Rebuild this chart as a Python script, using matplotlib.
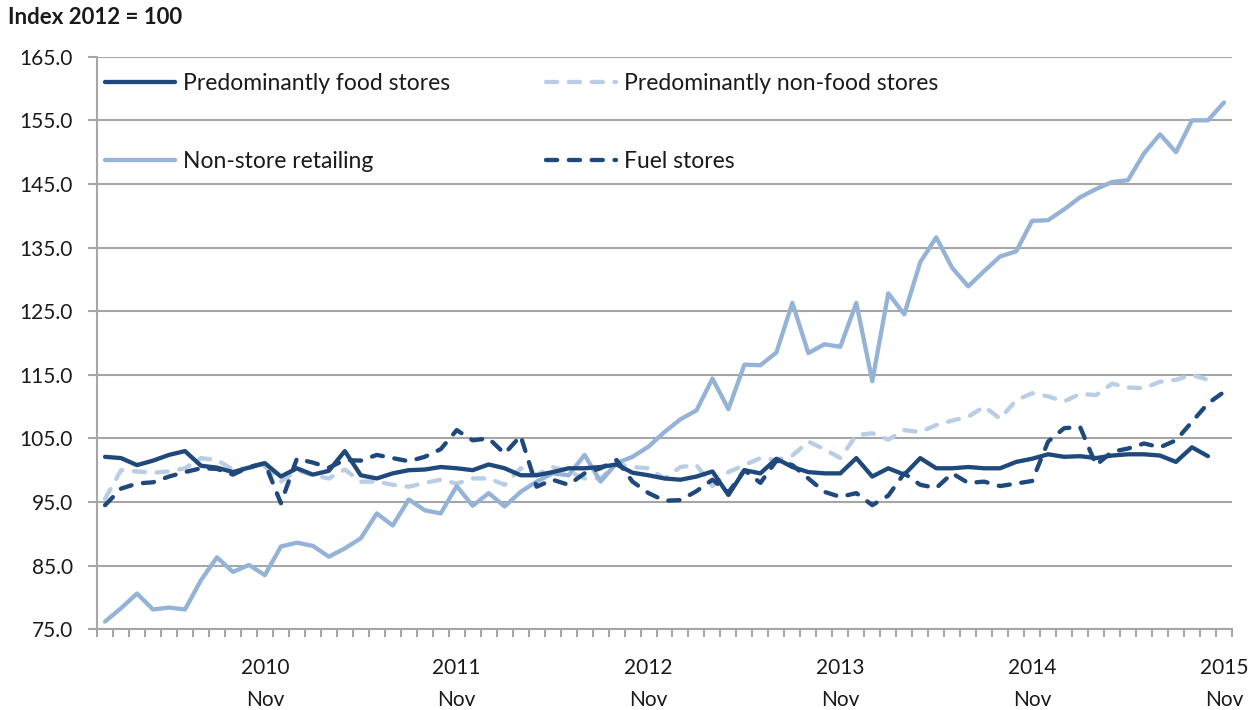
import numpy as np
import matplotlib
matplotlib.use("Agg")
import matplotlib.pyplot as plt

plt.rcParams['font.family'] = ['Lato', 'DejaVu Sans']

# monthly index values, Jan 2010 .. Nov 2015 (2012 = 100)
food = [102.1, 101.9, 100.8, 101.5, 102.4, 103.0, 100.7, 100.4, 99.7, 100.4,
        101.1, 99.0, 100.3, 99.3, 99.9, 103.0, 99.2, 98.7, 99.5, 100.0,
        100.1, 100.5, 100.3, 100.0, 100.9, 100.3, 99.2, 99.2, 99.7, 100.3,
        100.3, 100.5, 100.9, 99.6, 99.2, 98.7, 98.5, 99.0, 99.8, 96.1,
        100.0, 99.5, 101.8, 100.5, 99.7, 99.5, 99.5, 101.9, 99.0, 100.3,
        99.3, 101.9, 100.3, 100.3, 100.5, 100.3, 100.3, 101.3, 101.8, 102.5,
        102.1, 102.2, 101.9, 102.3, 102.5, 102.5, 102.3, 101.3, 103.6, 102.2,
        np.nan]
nonfood = [95.5, 100.0, 99.8, 99.6, 99.8, 100.3, 101.9, 101.6, 100.1, 100.4,
           100.6, 98.2, 100.0, 99.2, 98.7, 100.1, 98.2, 98.2, 97.7, 97.4,
           98.0, 98.5, 97.9, 98.7, 98.7, 97.7, 100.3, 99.3, 100.5, 99.8,
           98.7, 98.7, 101.0, 100.5, 100.3, 98.7, 100.5, 100.8, 97.5, 99.7,
           100.8, 101.9, 101.6, 102.3, 104.5, 103.3, 101.9, 105.5, 105.8, 104.8,
           106.3, 106.0, 107.1, 107.8, 108.4, 110.0, 108.1, 111.0, 112.1, 111.6,
           110.8, 112.0, 111.8, 113.6, 113.0, 112.9, 113.9, 114.2, 115.0, 114.2,
           np.nan]
nonstore = [76.2, 78.3, 80.6, 78.1, 78.4, 78.1, 82.7, 86.3, 84.0, 85.1,
            83.5, 88.0, 88.6, 88.1, 86.4, 87.7, 89.3, 93.2, 91.3, 95.4,
            93.7, 93.2, 97.5, 94.4, 96.4, 94.3, 96.6, 98.2, 99.5, 99.2,
            102.4, 98.2, 101.1, 102.1, 103.7, 106.0, 108.0, 109.4, 114.4, 109.6,
            116.6, 116.5, 118.5, 126.3, 118.4, 119.8, 119.4, 126.3, 114.0, 127.8,
            124.5, 132.7, 136.6, 131.8, 128.9, 131.3, 133.6, 134.4, 139.2, 139.3,
            141.0, 142.9, 144.2, 145.3, 145.6, 149.8, 152.8, 150.0, 155.0, 155.0,
            157.8]
fuel = [94.5, 97.1, 97.9, 98.1, 99.0, 99.7, 100.3, 100.2, 99.3, 100.5,
        101.1, 94.8, 101.8, 101.2, 100.4, 101.6, 101.5, 102.4, 101.9, 101.4,
        102.1, 103.3, 106.3, 104.7, 105.0, 102.6, 105.4, 97.4, 98.5, 97.7,
        99.5, 100.3, 101.6, 98.2, 96.4, 95.2, 95.3, 96.7, 98.5, 96.5,
        100.0, 98.0, 101.5, 100.8, 98.7, 96.6, 95.8, 96.4, 94.5, 96.0,
        99.5, 97.7, 97.2, 99.5, 98.0, 98.2, 97.5, 97.9, 98.3, 104.5,
        106.6, 106.8, 100.8, 102.9, 103.4, 104.2, 103.6, 104.7, 107.6, 110.5,
        112.3]

xlabels = ["2010\nNov", "2011\nNov", "2012\nNov", "2013\nNov", "2014\nNov", "2015\nNov"]
xlabel_pos = [10, 22, 34, 46, 58, 70]

dark = '#1F497D'
mid = '#95B3D7'
light = '#B9CDE5'
grid_c = '#A6A6A6'
txt_c = '#1a1a1a'

fig = plt.figure(figsize=(12.54, 7.10), dpi=100)
ax = fig.add_axes([0.0774, 0.1138, 0.905, 0.8063])

x = np.arange(len(nonstore))
lw = 3.1
dash = (2.6, 2.7)
l1, = ax.plot(x, food, color=dark, lw=lw, solid_capstyle='round', label='Predominantly food stores', zorder=4)
l2, = ax.plot(x, nonfood, color=light, lw=lw, ls=(0, dash), dash_capstyle='round',
              label='Predominantly non-food stores', zorder=3)
l3, = ax.plot(x, nonstore, color=mid, lw=lw, solid_capstyle='round', label='Non-store retailing', zorder=3)
l4, = ax.plot(x, fuel, color=dark, lw=lw, ls=(0, dash), dash_capstyle='round', label='Fuel stores', zorder=4)

ax.set_xlim(-0.5, len(x) - 0.5)
ax.set_ylim(75, 165)
ax.set_yticks(np.arange(75, 166, 10))
ax.set_yticklabels(['%.1f' % v for v in np.arange(75, 166, 10)], fontsize=15, color=txt_c)
ax.yaxis.grid(True, color=grid_c, lw=1.5)
ax.set_axisbelow(True)

ax.set_xticks(xlabel_pos)
ax.set_xticklabels(xlabels, fontsize=15, color=txt_c, linespacing=1.7)
ax.set_xticks(np.arange(-0.5, len(x), 1), minor=True)
ax.tick_params(axis='x', which='major', length=0, pad=21)
ax.tick_params(axis='x', which='minor', length=6, width=1.5, color=grid_c, direction='out')
ax.tick_params(axis='y', length=6.5, width=1.5, color=grid_c, pad=11)

for s in ['top', 'right']:
    ax.spines[s].set_visible(False)
for s in ['left', 'bottom']:
    ax.spines[s].set_color(grid_c)
    ax.spines[s].set_linewidth(1.5)

leg = ax.legend(handles=[l1, l3, l2, l4], ncol=2, loc='upper left', bbox_to_anchor=(0.007, 0.972),
                frameon=False, fontsize=16.5, handlelength=3.05, handletextpad=0.35,
                columnspacing=4.2, labelspacing=2.5, borderpad=0, borderaxespad=0)
for t in leg.get_texts():
    t.set_color(txt_c)

fig.text(0.0064, 0.975, 'Index 2012 = 100', fontsize=16, fontweight='bold', color=txt_c,
         va='center', ha='left')

fig.savefig('out.png', dpi=100)
